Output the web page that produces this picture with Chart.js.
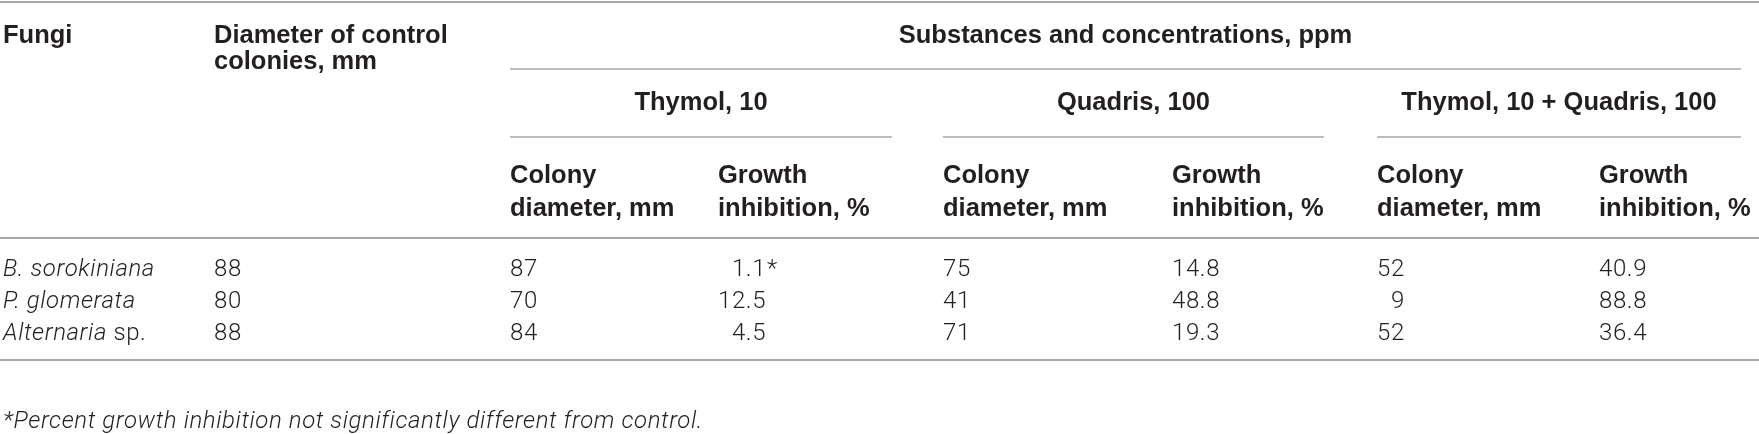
<!DOCTYPE html>
<html>
<head>
<meta charset="utf-8">
<script src="https://cdn.jsdelivr.net/npm/chart.js@4"></script>
<style>
  html, body { margin: 0; padding: 0; background: #fff; }
  canvas { display: block; }
</style>
</head>
<body>
<canvas id="table" width="1759" height="434"></canvas>
<script>
// table content
var fungiGenus = ['B. sorokiniana', 'P. glomerata', 'Alternaria'];
var fungiSuffix = ['', '', ' sp.'];
var controlDiameter = [88, 80, 88];
var thymolDiameter = [87, 70, 84];
var thymolInhibition = [1.1, 12.5, 4.5];
var thymolMark = ['*', '', ''];
var quadrisDiameter = [75, 41, 71];
var quadrisInhibition = [14.8, 48.8, 19.3];
var mixDiameter = [52, 9, 52];
var mixInhibition = [40.9, 88.8, 36.4];

var headFungi = 'Fungi';
var headControl = ['Diameter of control', 'colonies, mm'];
var headSubstances = 'Substances and concentrations, ppm';
var groupLabels = ['Thymol, 10', 'Quadris, 100', 'Thymol, 10 + Quadris, 100'];
var subDiameter = ['Colony', 'diameter, mm'];
var subInhibition = ['Growth', 'inhibition, %'];
var footnote = '*Percent growth inhibition not significantly different from control.';

// layout (page units, same as the scales)
var colX = [3, 214, 510, 718, 943, 1172, 1377, 1599];
var groupSpan = [[510, 892], [943, 1324], [1377, 1741]];
var rowY = [270, 302, 334];

var INK = '#231f20';
var RULE = '#a8a8a8';
var BOLD = 'bold 25.5px "Liberation Sans", Arial, sans-serif';
var LIGHT = '300 24px Roboto, "Liberation Sans", sans-serif';
var LIGHT_IT = 'italic 300 24px Roboto, "Liberation Sans", sans-serif';
var SPACING = '0.6px';

var bodyColumns = [
    {kind: 'name'},
    {values: controlDiameter, dec: 0},
    {values: thymolDiameter, dec: 0},
    {values: thymolInhibition, dec: 1, marks: thymolMark},
    {values: quadrisDiameter, dec: 0},
    {values: quadrisInhibition, dec: 1},
    {values: mixDiameter, dec: 0},
    {values: mixInhibition, dec: 1}
];

var datasets = bodyColumns.map(function(col, c) {
    return {
        label: 'col' + c,
        data: rowY.map(function(yv) { return {x: colX[c], y: yv}; }),
        pointRadius: 0,
        pointHoverRadius: 0
    };
});

var tablePlugin = {
    id: 'tableText',
    afterDatasetsDraw: function(chart) {
        var ctx = chart.ctx;
        var xs = chart.scales.x, ys = chart.scales.y;
        function px(v) { return xs.getPixelForValue(v); }
        function py(v) { return ys.getPixelForValue(v); }

        function rule(x0, x1, yv, w) {
            ctx.beginPath();
            ctx.strokeStyle = RULE;
            ctx.lineWidth = w;
            ctx.moveTo(px(x0), py(yv));
            ctx.lineTo(px(x1), py(yv));
            ctx.stroke();
        }
        function text(str, xv, yv, font, align, spacing) {
            ctx.font = font;
            ctx.letterSpacing = spacing || '0px';
            ctx.textAlign = align || 'left';
            ctx.fillText(str, px(xv), py(yv));
        }

        ctx.save();
        ctx.fillStyle = INK;
        ctx.textBaseline = 'middle';

        // horizontal rules
        rule(0, 1759, 2, 2);
        rule(510, 1741, 69, 1.5);
        groupSpan.forEach(function(s) { rule(s[0], s[1], 137, 1.5); });
        rule(0, 1759, 238, 2);
        rule(0, 1759, 360, 2);

        // header
        text(headFungi, colX[0], 36, BOLD);
        text(headControl[0], colX[1], 36, BOLD);
        text(headControl[1], colX[1], 62, BOLD);
        text(headSubstances, (510 + 1741) / 2, 36, BOLD, 'center');
        groupLabels.forEach(function(g, i) {
            text(g, (groupSpan[i][0] + groupSpan[i][1]) / 2, 103, BOLD, 'center');
        });
        for (var c = 2; c < colX.length; c++) {
            var sub = (c % 2 === 0) ? subDiameter : subInhibition;
            text(sub[0], colX[c], 176, BOLD);
            text(sub[1], colX[c], 209, BOLD);
        }

        // body cells, placed at the points chart.js laid out
        ctx.letterSpacing = SPACING;
        bodyColumns.forEach(function(col, c) {
            var meta = chart.getDatasetMeta(c);
            meta.data.forEach(function(pt, r) {
                if (col.kind === 'name') {
                    ctx.font = LIGHT_IT;
                    ctx.textAlign = 'left';
                    ctx.fillText(fungiGenus[r], pt.x, pt.y);
                    var w = ctx.measureText(fungiGenus[r]).width;
                    ctx.font = LIGHT;
                    ctx.fillText(fungiSuffix[r], pt.x + w, pt.y);
                    return;
                }
                ctx.font = LIGHT;
                var tmpl = col.dec ? '88.8' : '88';
                var right = pt.x + ctx.measureText(tmpl).width;
                ctx.textAlign = 'right';
                ctx.fillText(col.values[r].toFixed(col.dec), right, pt.y);
                if (col.marks && col.marks[r]) {
                    ctx.textAlign = 'left';
                    ctx.fillText(col.marks[r], right + 1, pt.y);
                }
            });
        });

        // footnote
        text(footnote, 3, 422, LIGHT_IT, 'left', SPACING);
        ctx.restore();
    }
};

new Chart(document.getElementById('table'), {
    type: 'scatter',
    data: {datasets: datasets},
    options: {
        responsive: false,
        animation: false,
        events: [],
        layout: {padding: 0},
        plugins: {legend: {display: false}, tooltip: {enabled: false}},
        scales: {
            x: {type: 'linear', min: 0, max: 1759, display: false},
            y: {type: 'linear', min: 0, max: 434, reverse: true, display: false}
        }
    },
    plugins: [tablePlugin]
});
</script>
</body>
</html>
